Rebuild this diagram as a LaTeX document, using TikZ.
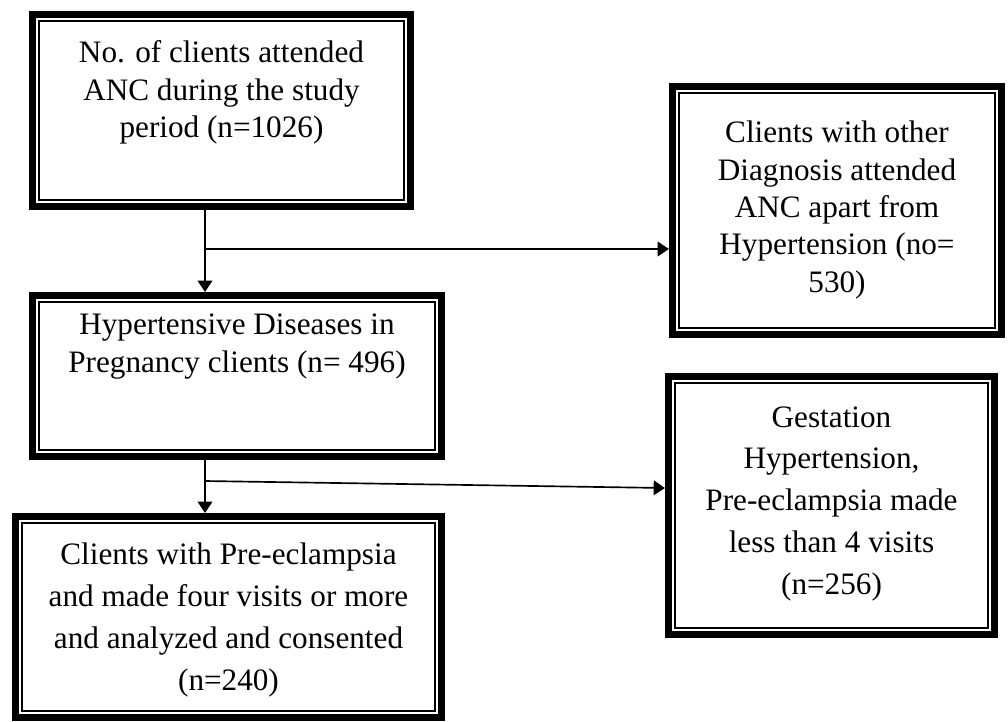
\documentclass[tikz,border=0pt]{standalone}
\usepackage{fontspec}
\setmainfont{Liberation Serif}
\usetikzlibrary{arrows.meta, positioning, calc}

\begin{document}
\begin{tikzpicture}[x=0.75pt, y=-0.75pt, >={Triangle[length=8.5pt, width=11pt]},
    frame/.style={draw, line width=5.25pt, inner sep=0pt},
    inner/.style={draw, line width=1.1pt},
    txt/.style={align=center, inner sep=0pt, anchor=base, font=\fontsize{23.4}{28}\selectfont},
    txtwide/.style={txt, font=\fontsize{23.4}{31.3}\selectfont},
    arr/.style={->, line width=1.25pt}]
  \useasboundingbox (0,0) rectangle (1008,722);

  % Boxes
  \node[frame, minimum width=283.5pt, minimum height=144pt] (b1) at (221.5,110.5) {};
  \node[frame, minimum width=306.75pt, minimum height=120.75pt] (b2) at (237,376) {};
  \node[frame, minimum width=319.5pt, minimum height=150.75pt] (b3) at (228.5,617) {};
  \node[frame, minimum width=246.75pt, minimum height=186pt] (b4) at (837,210.5) {};
  \node[frame, minimum width=244.5pt, minimum height=193.5pt] (b5) at (831.5,505.5) {};
  \foreach \b in {b1,b2,b3,b4,b5}
    \draw[inner] ([shift={(9.9,9.9)}]\b.north west) rectangle ([shift={(-9.9,-9.9)}]\b.south east);

  % Texts (placed on the baseline of their last line)
  \node[txt] (t1) at (b1.north |- 0,137.6)
    {No. of clients attended\\ANC during the study\\period (n=1026)};
  \node[txt] (t2) at (b2.north |- 0,372)
    {Hypertensive Diseases in\\Pregnancy clients (n= 496)};
  \node[txtwide] (t3) at (b3.north |- 0,690)
    {Clients with Pre-eclampsia\\and made four visits or more\\and analyzed and consented\\(n=240)};
  \node[txt] (t4) at (b4.north |- 0,292)
    {Clients with other\\Diagnosis attended\\ANC apart from\\Hypertension (no=\\530)};
  \node[txtwide] (t5) at (b5.north |- 0,594)
    {Gestation\\Hypertension,\\Pre-eclampsia made\\less than 4 visits\\(n=256)};

  % Arrows
  \coordinate (j1) at (205,249);
  \coordinate (j2) at (205,481);
  \draw[arr] (j1 |- b1.south) -- (j1 |- b2.north);
  \draw[arr] (j1) -- (j1 -| b4.west);
  \draw[arr] (j2 |- b2.south) -- (j2 |- b3.north);
  \draw[arr] (j2) -- ($(b5.west)+(0,-17.5)$);
\end{tikzpicture}
\end{document}
